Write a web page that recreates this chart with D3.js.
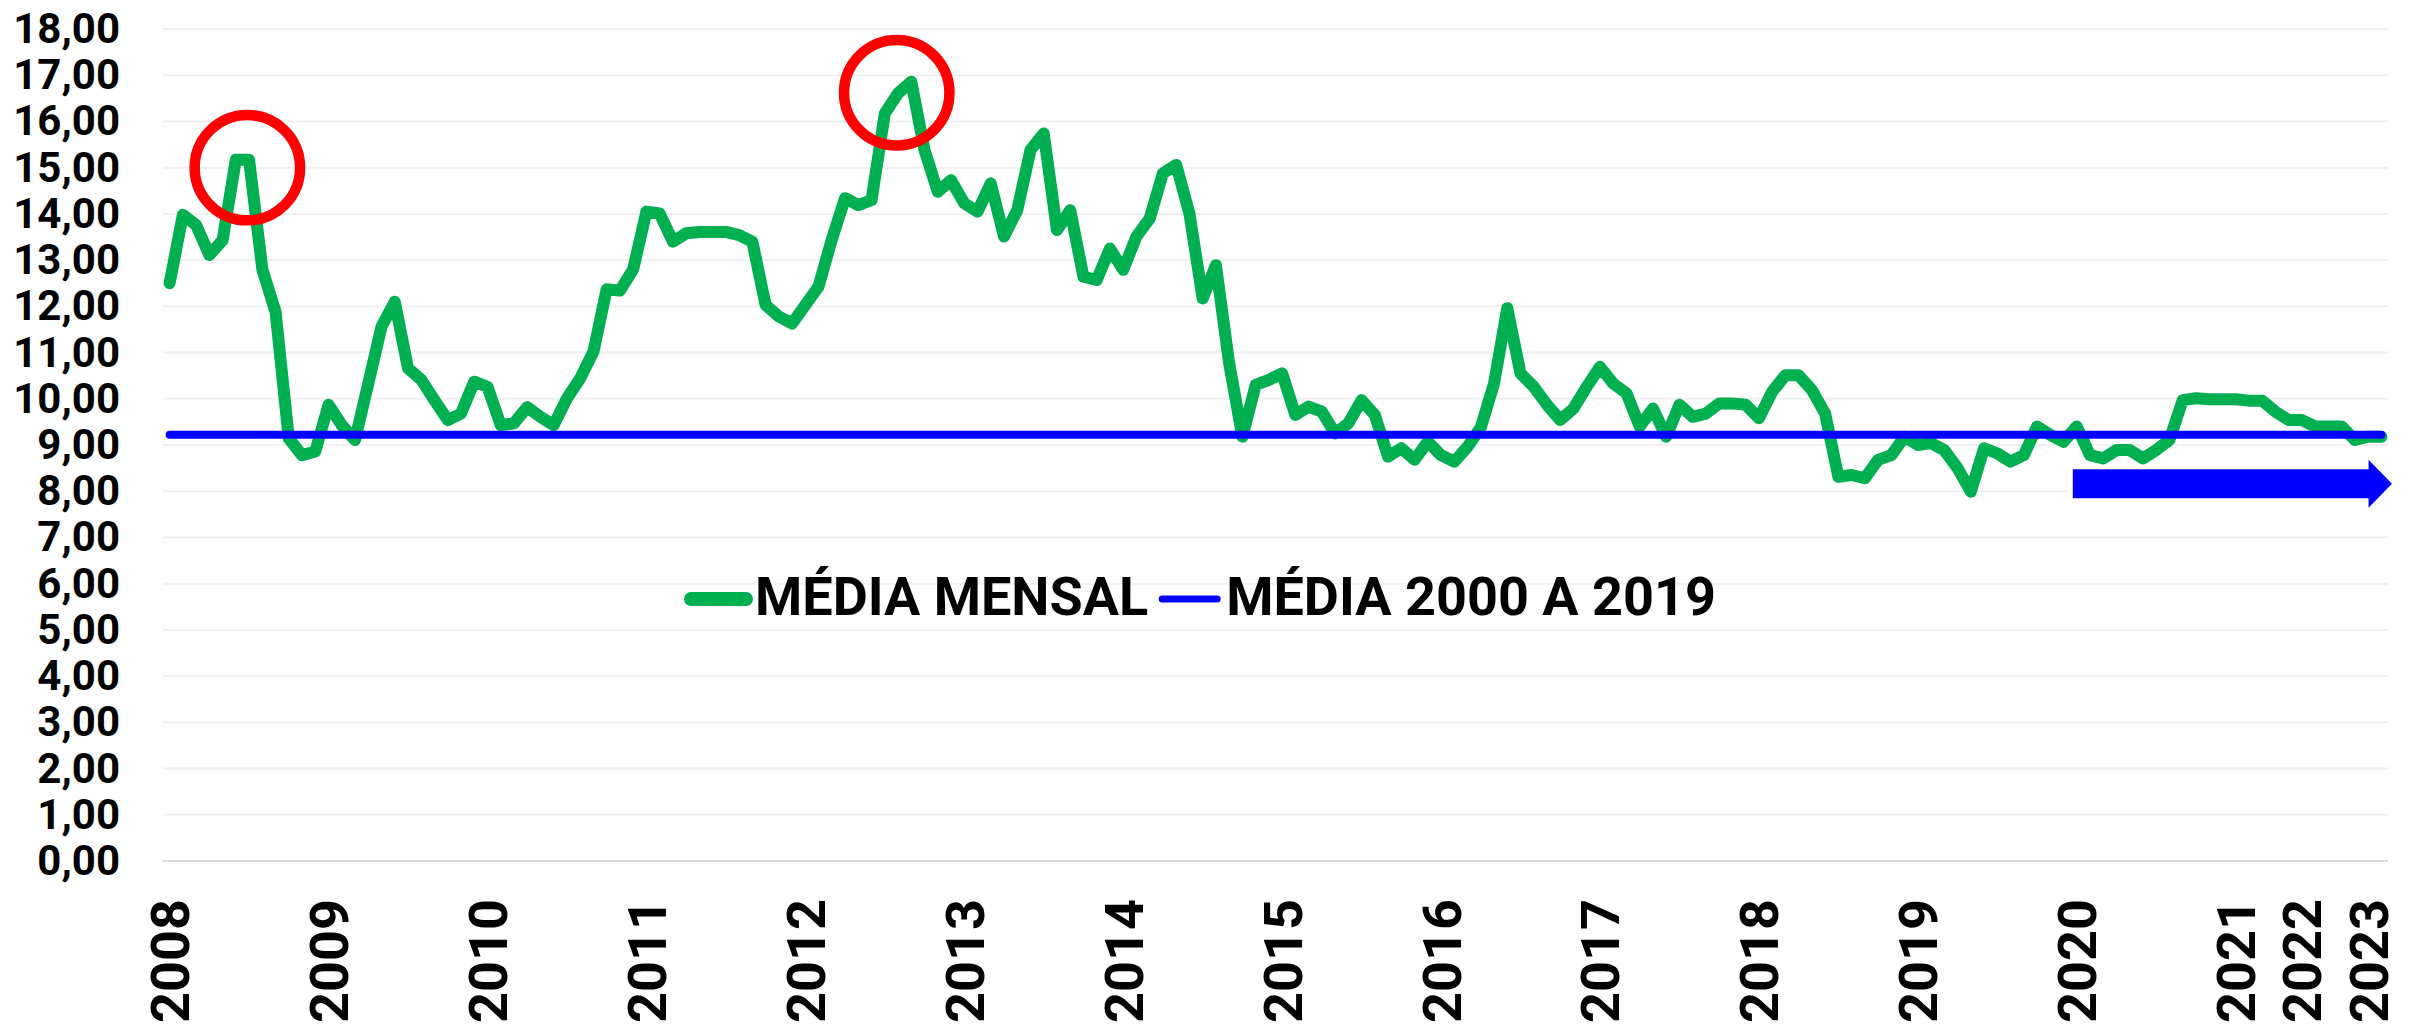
<!DOCTYPE html>
<html>
<head>
<meta charset="utf-8">
<script src="https://cdn.jsdelivr.net/npm/d3@7"></script>
<style>
  html, body { margin: 0; padding: 0; background: #ffffff; }
  svg { display: block; font-family: Roboto, "Noto Sans", sans-serif; }
</style>
</head>
<body>
<svg id="chart" width="2415" height="1027"></svg>
<script>
// Year labels and how many observations each year contributes
const yearLabels = ["2008","2009","2010","2011","2012","2013","2014","2015",
                    "2016","2017","2018","2019","2020","2021","2022","2023"];
const pointsPerYear = [12,12,12,12,12,12,12,12,12,12,12,12,12,5,5,2];

// Monthly average series
const mediaMensal = [
  12.50, 13.98, 13.76, 13.11, 13.43, 15.17, 15.17, 12.80, 11.88, 9.14, 8.78, 8.86,   // 2008
  9.87, 9.43, 9.11, 10.33, 11.56, 12.10, 10.66, 10.41, 9.97, 9.54, 9.68, 10.37,      // 2009
  10.26, 9.43, 9.47, 9.82, 9.61, 9.43, 10.01, 10.44, 11.02, 12.37, 12.34, 12.80,     // 2010
  14.05, 14.01, 13.40, 13.58, 13.61, 13.61, 13.61, 13.54, 13.40, 12.03, 11.78, 11.63,// 2011
  12.03, 12.43, 13.45, 14.34, 14.19, 14.30, 16.17, 16.61, 16.86, 15.38, 14.48, 14.73,// 2012
  14.23, 14.05, 14.66, 13.51, 14.08, 15.38, 15.74, 13.65, 14.08, 12.64, 12.57, 13.25,// 2013
  12.79, 13.51, 13.90, 14.88, 15.06, 14.01, 12.17, 12.89, 10.77, 9.18, 10.30, 10.41, // 2014
  10.55, 9.65, 9.83, 9.72, 9.25, 9.47, 9.97, 9.65, 8.75, 8.93, 8.68, 9.07,           // 2015
  8.78, 8.64, 8.96, 9.38, 10.33, 11.96, 10.55, 10.26, 9.87, 9.54, 9.79, 10.26,       // 2016
  10.69, 10.33, 10.12, 9.40, 9.79, 9.18, 9.87, 9.61, 9.68, 9.90, 9.90, 9.87,         // 2017
  9.58, 10.15, 10.51, 10.51, 10.19, 9.68, 8.31, 8.35, 8.28, 8.68, 8.78, 9.18,        // 2018
  9.00, 9.04, 8.89, 8.50, 7.99, 8.93, 8.82, 8.64, 8.78, 9.40, 9.22, 9.07,            // 2019
  9.40, 8.78, 8.71, 8.89, 8.89, 8.71, 8.89, 9.11, 9.97, 10.01, 9.99, 9.99,           // 2020
  9.99, 9.96, 9.96, 9.72, 9.54,                                                      // 2021
  9.54, 9.40, 9.40, 9.40, 9.11,                                                      // 2022
  9.18, 9.18                                                                         // 2023
];

// Long-run reference average (2000 to 2019)
const media2000a2019 = 9.22;

// Y axis ticks
const yTicks = [0,1,2,3,4,5,6,7,8,9,10,11,12,13,14,15,16,17,18];

// Highlighted peaks (position in observations, value)
const destaques = [
  { pos: 5.87, valor: 15.00 },
  { pos: 54.9, valor: 16.62 }
];

// Trend arrow (from observation position to position, at value)
const seta = { de: 143.7, ate: 167.8, valor: 8.16 };

// Legend entries
const legenda = [
  { nome: "MÉDIA MENSAL", cor: "#00B050", largura: 14 },
  { nome: "MÉDIA 2000 A 2019", cor: "#0000FF", largura: 7 }
];

// ---- build category list: year text on the first observation of each year
const categorias = [];
yearLabels.forEach((ano, k) => {
  for (let m = 0; m < pointsPerYear[k]; m++) categorias.push(m === 0 ? ano : "");
});
const idx = d3.range(mediaMensal.length);

const svg = d3.select("#chart");
const plot = { left: 163, right: 2388, top: 29, bottom: 861 };

const x = d3.scalePoint().domain(idx).range([plot.left, plot.right]).padding(0.5);
const xPos = p => x(0) + p * x.step();
const y = d3.scaleLinear().domain([0, 18]).range([plot.bottom, plot.top]);

svg.append("rect").attr("width", 2415).attr("height", 1027).attr("fill", "#fff");

// gridlines
svg.append("g").selectAll("line").data(yTicks).join("line")
  .attr("x1", plot.left).attr("x2", plot.right)
  .attr("y1", d => y(d)).attr("y2", d => y(d))
  .attr("stroke", d => d === 0 ? "#D9D9D9" : "#F0F0F0")
  .attr("stroke-width", 2);

// y axis labels
const yAxis = d3.axisLeft(y).tickValues(yTicks)
  .tickFormat(d => d3.format(".2f")(d).replace(".", ","))
  .tickSize(0).tickPadding(0);
svg.append("g").attr("transform", "translate(120,0)").call(yAxis)
  .call(g => g.select(".domain").remove())
  .selectAll("text")
  .attr("font-family", "Roboto, sans-serif")
  .attr("font-weight", "bold")
  .attr("font-size", 42)
  .attr("fill", "#000");

// x axis year labels (rotated)
const anos = idx.filter(i => categorias[i] !== "");
svg.append("g").selectAll("text").data(anos).join("text")
  .attr("transform", i => `translate(${x(i)},899) rotate(-90)`)
  .attr("text-anchor", "end")
  .attr("dy", "0.36em")
  .attr("font-family", "Roboto, sans-serif")
  .attr("font-weight", "bold")
  .attr("font-size", 54)
  .attr("fill", "#000")
  .text(i => categorias[i]);

// trend arrow
const ay = y(seta.valor), ax0 = xPos(seta.de), ax1 = xPos(seta.ate);
const corpo = 14.5, cabeca = 24, ponta = 23.4;
const setaPath = d3.path();
setaPath.moveTo(ax0, ay - corpo);
setaPath.lineTo(ax1 - ponta, ay - corpo);
setaPath.lineTo(ax1 - ponta, ay - cabeca);
setaPath.lineTo(ax1, ay);
setaPath.lineTo(ax1 - ponta, ay + cabeca);
setaPath.lineTo(ax1 - ponta, ay + corpo);
setaPath.lineTo(ax0, ay + corpo);
setaPath.closePath();
svg.append("path").attr("d", setaPath.toString())
  .attr("fill", "none").attr("stroke", "#fff").attr("stroke-width", 12);
svg.append("path").attr("d", setaPath.toString())
  .attr("fill", "#0000FF");

// monthly series
const linha = d3.line().x(i => x(i)).y(i => y(mediaMensal[i]));
svg.append("path").datum(idx).attr("d", linha)
  .attr("fill", "none").attr("stroke", "#00B050").attr("stroke-width", 12)
  .attr("stroke-linejoin", "round").attr("stroke-linecap", "round");

// reference average line
const linhaRef = d3.line().x(i => x(i)).y(() => y(media2000a2019));
svg.append("path").datum(idx).attr("d", linhaRef)
  .attr("fill", "none").attr("stroke", "#0000FF").attr("stroke-width", 8)
  .attr("stroke-linecap", "round");

// peak highlights
svg.append("g").selectAll("circle").data(destaques).join("circle")
  .attr("cx", d => xPos(d.pos)).attr("cy", d => y(d.valor)).attr("r", 52.7)
  .attr("fill", "none").attr("stroke", "#FF0000").attr("stroke-width", 10.5);

// legend
const leg = svg.append("g").attr("font-family", "Roboto, sans-serif")
  .attr("font-weight", "bold").attr("font-size", 54);
let lx = 684;
const ly = 599;
legenda.forEach(item => {
  leg.append("line").attr("x1", lx + 7).attr("x2", lx + 62)
    .attr("y1", ly).attr("y2", ly)
    .attr("stroke", item.cor).attr("stroke-width", item.largura)
    .attr("stroke-linecap", "round");
  const t = leg.append("text").attr("x", lx + 71).attr("y", 615)
    .attr("fill", "#000").text(item.nome);
  lx = lx + 71 + t.node().getComputedTextLength() + 7;
});
</script>
</body>
</html>
